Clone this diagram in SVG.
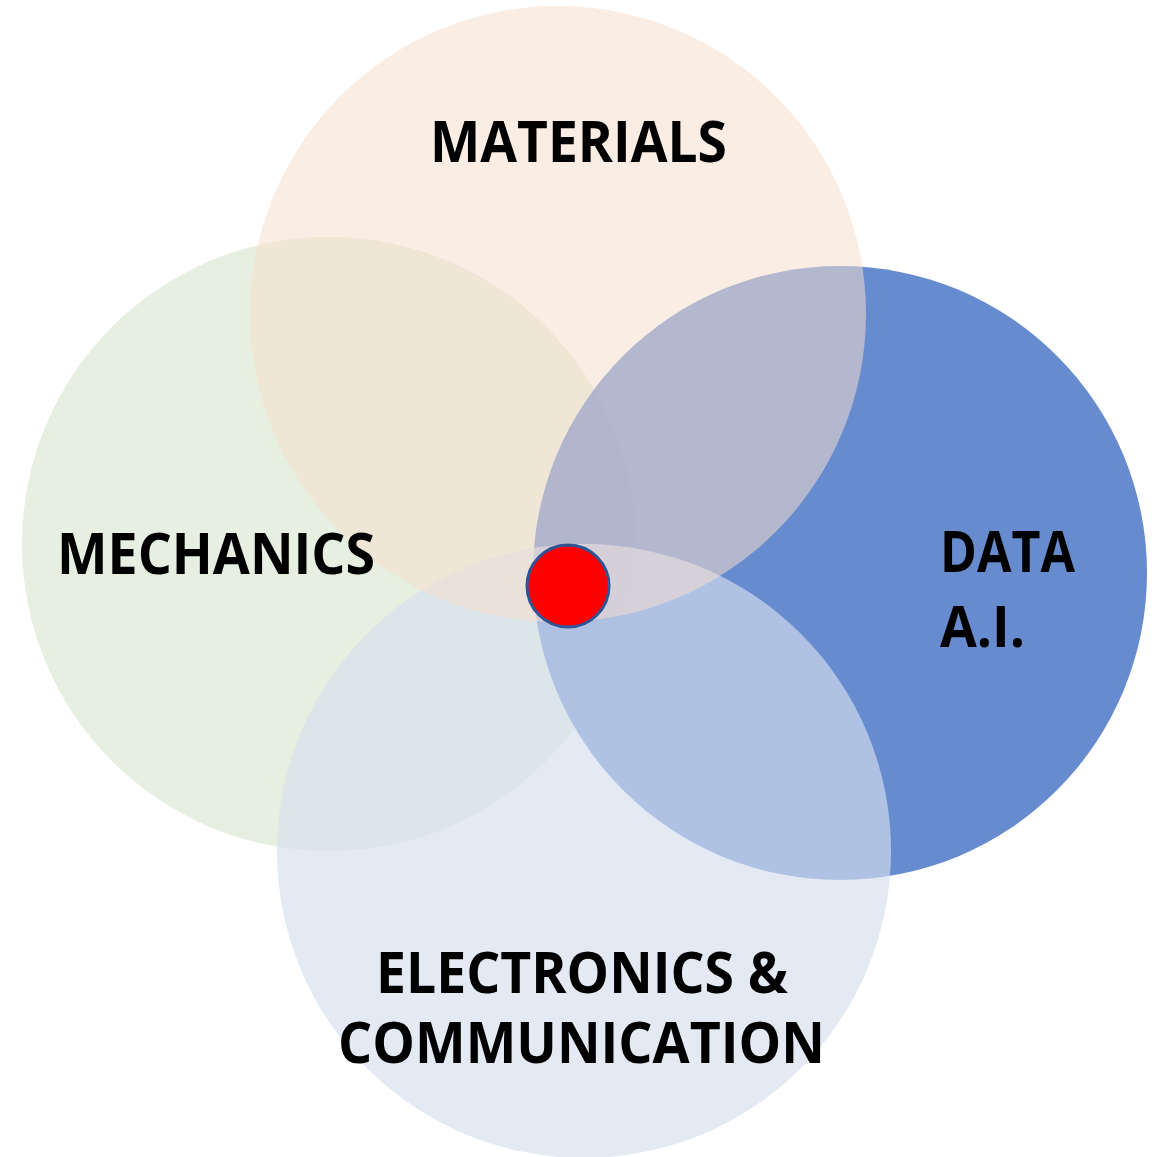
<svg xmlns="http://www.w3.org/2000/svg" width="1154" height="1157" viewBox="0 0 1154 1157">
<style>
.lbl{font-family:"Open Sans",Lato,"Liberation Sans",sans-serif;font-weight:bold;font-size:57px;fill:#000}
</style>
<rect width="1154" height="1157" fill="#fff"/>
<g id="mechanics">
<circle cx="329" cy="544" r="307" fill="#E6EFE0"/>
</g>
<g id="data">
<circle cx="840" cy="573" r="307" fill="#4472C4" fill-opacity="0.82"/>
</g>
<g id="electronics">
<circle cx="584" cy="851" r="307" fill="#D6DFEE" fill-opacity="0.66"/>
</g>
<g id="materials">
<circle cx="558" cy="314" r="308" fill="#F5DDCE" fill-opacity="0.54"/>
</g>
<g id="center">
<circle cx="568" cy="586" r="41" fill="#FF0000" stroke="#2F5597" stroke-width="3"/>
</g>
<g id="labels">
<text id="mechanics-label" class="lbl" x="57" y="574" textLength="318" lengthAdjust="spacingAndGlyphs">MECHANICS</text>
<text id="data-label-1" class="lbl" x="940" y="572" textLength="135" lengthAdjust="spacingAndGlyphs">DATA</text>
<text id="data-label-2" class="lbl" x="940" y="647" textLength="85" lengthAdjust="spacingAndGlyphs">A.I.</text>
<text id="electronics-label-1" class="lbl" x="376" y="993" textLength="412" lengthAdjust="spacingAndGlyphs">ELECTRONICS &amp;</text>
<text id="electronics-label-2" class="lbl" x="338" y="1063" textLength="487" lengthAdjust="spacingAndGlyphs">COMMUNICATION</text>
<text id="materials-label" class="lbl" x="430" y="162" textLength="297" lengthAdjust="spacingAndGlyphs">MATERIALS</text>
</g>
<g id="connectors"/>
</svg>
